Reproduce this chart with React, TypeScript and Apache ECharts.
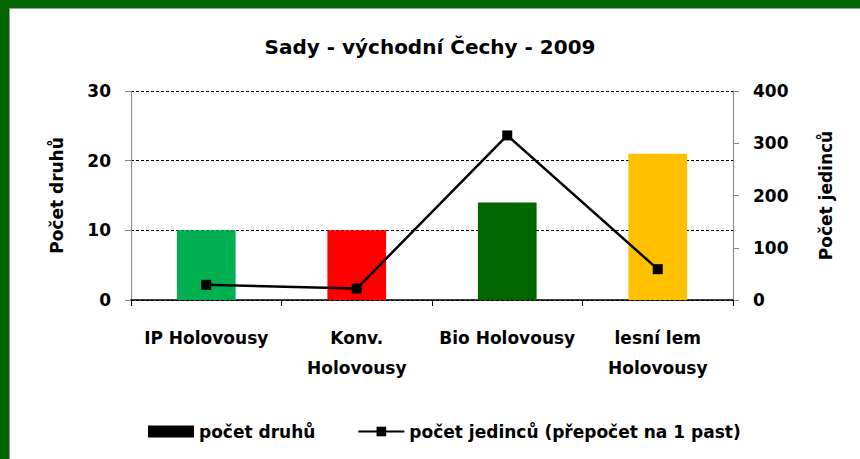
import React, { useEffect, useRef } from "react";
import * as echarts from "echarts";

const categories = ["IP Holovousy", "Konv.\nHolovousy", "Bio Holovousy", "lesní lem\nHolovousy"];
const speciesCounts = [10, 10, 14, 21];
const barColors = ["#00B050", "#FF0000", "#006600", "#FFC000"];
const individualCounts = [29, 22, 315, 59];
const leftTicks = { min: 0, max: 30, interval: 10 };
const rightTicks = { min: 0, max: 400, interval: 100 };

const FONT = "'DejaVu Sans', sans-serif";

export default function App() {
  const ref = useRef<HTMLDivElement>(null);
  useEffect(() => {
    if (!ref.current) return;
    const chart = echarts.init(ref.current, undefined, { renderer: "svg" });
    chart.setOption({
      animation: false,
      backgroundColor: "#ffffff",
      textStyle: { fontFamily: FONT },
      title: {
        text: "Sady - východní Čechy - 2009",
        left: "center",
        top: 32,
        textStyle: { fontFamily: FONT, fontWeight: "bold", fontSize: 20, color: "#000" },
      },
      graphic: [
        { type: "rect", shape: { x: 0, y: 0, width: 860, height: 8 }, style: { fill: "#006400" }, z: 100 },
        { type: "rect", shape: { x: 0, y: 0, width: 9, height: 459 }, style: { fill: "#006400" }, z: 100 },
        { type: "line", shape: { x1: 9.5, y1: 8, x2: 9.5, y2: 459 }, style: { stroke: "#9a9a9a", lineWidth: 1 }, z: 100 },
        { type: "line", shape: { x1: 9, y1: 8.5, x2: 860, y2: 8.5 }, style: { stroke: "#9a9a9a", lineWidth: 1 }, z: 100 },
      ],
      legend: {
        left: 143,
        top: 418,
        itemGap: 42,
        itemWidth: 46,
        itemHeight: 12,
        textStyle: { fontFamily: FONT, fontWeight: "bold", fontSize: 17, color: "#000" },
        data: [
          { name: "počet druhů", icon: "rect" },
          { name: "počet jedinců (přepočet na 1 past)" },
        ],
      },
      grid: { left: 131, right: 127, top: 91, bottom: 159 },
      xAxis: {
        type: "category",
        data: categories,
        axisLine: { lineStyle: { color: "#000", width: 1.5 } },
        axisTick: { show: true, length: 6, lineStyle: { color: "#000" } },
        axisLabel: {
          interval: 0,
          margin: 23,
          lineHeight: 30,
          fontFamily: FONT,
          fontWeight: "bold",
          fontSize: 17,
          color: "#000",
        },
      },
      yAxis: [
        {
          type: "value",
          ...leftTicks,
          name: "Počet druhů",
          nameLocation: "middle",
          nameRotate: 90,
          nameGap: 66,
          nameTextStyle: { fontFamily: FONT, fontWeight: "bold", fontSize: 17, color: "#000" },
          axisLine: { show: true, lineStyle: { color: "#868686" } },
          axisTick: { show: true, length: 6, lineStyle: { color: "#868686" } },
          axisLabel: { margin: 20, fontFamily: FONT, fontWeight: "bold", fontSize: 17, color: "#000" },
          splitLine: { show: true, lineStyle: { color: "#000", type: [3, 2], width: 1 } },
        },
        {
          type: "value",
          ...rightTicks,
          position: "right",
          name: "Počet jedinců",
          nameLocation: "middle",
          nameRotate: 90,
          nameGap: 84,
          nameTextStyle: { fontFamily: FONT, fontWeight: "bold", fontSize: 17, color: "#000" },
          axisLine: { show: true, lineStyle: { color: "#868686" } },
          axisTick: { show: true, length: 6, lineStyle: { color: "#868686" } },
          axisLabel: { margin: 20, fontFamily: FONT, fontWeight: "bold", fontSize: 17, color: "#000" },
          splitLine: { show: false },
        },
      ],
      series: [
        {
          name: "počet druhů",
          type: "bar",
          yAxisIndex: 0,
          barWidth: "39%",
          itemStyle: { color: "#000" },
          data: speciesCounts.map((v, i) => ({ value: v, itemStyle: { color: barColors[i] } })),
        },
        {
          name: "počet jedinců (přepočet na 1 past)",
          type: "line",
          yAxisIndex: 1,
          symbol: "rect",
          symbolSize: 10,
          lineStyle: { color: "#000", width: 2.5 },
          itemStyle: { color: "#000" },
          data: individualCounts,
        },
      ],
    });
    return () => chart.dispose();
  }, []);
  return (
    <div
      ref={ref}
      style={{ position: "absolute", left: 0, top: 0, width: 860, height: 459 }}
    />
  );
}
